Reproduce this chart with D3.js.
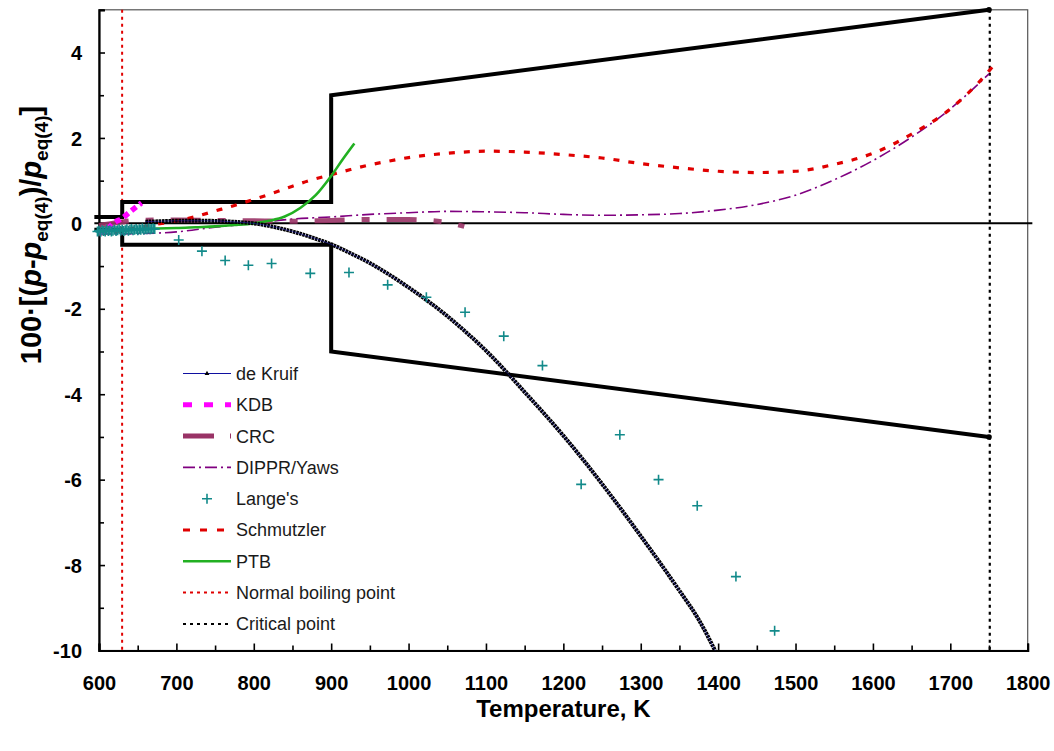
<!DOCTYPE html>
<html>
<head>
<meta charset="utf-8">
<script src="https://cdn.jsdelivr.net/npm/d3@7"></script>
<style>
  body { margin: 0; background: #fff; }
  svg { display: block; font-family: "Liberation Sans", Arial, sans-serif; }
</style>
</head>
<body>
<svg id="chart" width="1054" height="751"></svg>
<script>
// ---- data: relative deviation 100·(p − p_eq(4))/p_eq(4) vs temperature ----
const deKruifT = [660, 680, 700, 720, 740, 760, 780, 800, 825, 850, 875, 900, 925, 950, 975, 1000,
                  1025, 1050, 1075, 1100, 1125, 1150, 1175, 1200, 1225, 1250, 1275, 1300, 1325, 1350, 1375, 1396];
const deKruifP = [0.04, 0.05, 0.06, 0.06, 0.06, 0.05, 0.03, 0.00, -0.08, -0.19, -0.33, -0.49, -0.70, -0.93, -1.20, -1.50,
                  -1.82, -2.17, -2.56, -2.98, -3.45, -3.95, -4.45, -4.97, -5.52, -6.10, -6.70, -7.32, -7.95, -8.60, -9.28, -10.0];

const kdbT = [600, 610, 620, 630, 640, 655];
const kdbP = [-0.24, -0.14, 0.02, 0.12, 0.27, 0.48];

const crcT = [600, 625, 650, 700, 750, 800, 850, 900, 950, 1000, 1025, 1050, 1072];
const crcP = [-0.05, 0.02, 0.07, 0.08, 0.07, 0.06, 0.05, 0.07, 0.09, 0.09, 0.07, 0.02, -0.07];

const dipprT = [600, 650, 700, 750, 800, 850, 900, 950, 1000, 1050, 1100, 1150, 1200, 1250,
                1300, 1350, 1400, 1450, 1500, 1550, 1600, 1650, 1700, 1750];
const dipprP = [-0.25, -0.24, -0.20, -0.09, 0.00, 0.10, 0.15, 0.21, 0.25, 0.28, 0.27, 0.25, 0.21, 0.19,
                0.20, 0.23, 0.31, 0.44, 0.66, 1.02, 1.47, 2.02, 2.68, 3.50];

const langeT = [598, 600, 602, 604, 606, 608, 610, 612, 614, 616, 618, 620, 622, 624, 626, 628, 630, 632, 634,
                636, 638, 640, 642, 644, 646, 648, 650, 652, 654, 656, 658, 660, 662, 664, 666, 668, 670, 672,
                703, 733, 763, 793, 823, 873, 923, 973, 1023, 1073, 1123, 1173, 1223, 1273, 1323, 1373, 1423, 1473];
const langeP = [-0.19, -0.17, -0.20, -0.16, -0.18, -0.19, -0.15, -0.18, -0.16, -0.19, -0.17, -0.15, -0.18, -0.16, -0.14, -0.17, -0.15, -0.18, -0.16,
                -0.14, -0.17, -0.15, -0.13, -0.16, -0.15, -0.13, -0.16, -0.14, -0.15, -0.12, -0.15, -0.13, -0.14, -0.12, -0.14, -0.13, -0.12, -0.13,
                -0.39, -0.65, -0.87, -0.98, -0.94, -1.17, -1.15, -1.44, -1.73, -2.08, -2.64, -3.33, -6.11, -4.95, -6.00, -6.61, -8.27, -9.54];

const schmutzlerT = [600, 625, 650, 675, 700, 725, 750, 775, 800, 825, 850, 875, 900, 925, 950, 975, 1000,
                     1050, 1100, 1150, 1200, 1250, 1300, 1350, 1400, 1450, 1500, 1550, 1600, 1650, 1700, 1750, 1755];
const schmutzlerP = [-0.25, -0.18, -0.10, -0.02, 0.06, 0.16, 0.29, 0.42, 0.56, 0.71, 0.87, 1.02, 1.14, 1.26, 1.37, 1.46, 1.54,
                     1.64, 1.69, 1.67, 1.61, 1.53, 1.40, 1.30, 1.22, 1.19, 1.22, 1.38, 1.64, 2.09, 2.68, 3.57, 3.68];

const ptbT = [600, 625, 650, 675, 700, 725, 750, 775, 800, 820, 840, 860, 880, 900, 915, 930];
const ptbP = [-0.17, -0.15, -0.14, -0.12, -0.11, -0.09, -0.07, -0.04, 0.00, 0.06, 0.16, 0.36, 0.66, 1.11, 1.50, 1.87];

// uncertainty envelope of the reference equation
const envT = [594, 630, 630, 900, 900, 1750];
const envUpper = [0.15, 0.15, 0.5, 0.5, 3, 5];
const envLower = [-0.15, -0.15, -0.5, -0.5, -3, -5];

const zeroT = [594, 1806];
const boilingT = 629.88;
const criticalT = 1751;

const xTicks = [600, 700, 800, 900, 1000, 1100, 1200, 1300, 1400, 1500, 1600, 1700, 1800];
const xMinorTicks = [650, 750, 850, 950, 1050, 1150, 1250, 1350, 1450, 1550, 1650, 1750];
const yTicks = [-10, -8, -6, -4, -2, 0, 2, 4];
const yMinorTicks = [-9, -7, -5, -3, -1, 1, 3, 5];

const legendNames = ["de Kruif", "KDB", "CRC", "DIPPR/Yaws", "Lange's", "Schmutzler", "PTB",
                     "Normal boiling point", "Critical point"];

// ---- layout ----
const svg = d3.select("#chart");
const x = d3.scaleLinear().domain([600, 1800]).range([99, 1027.7]);
const y = d3.scaleLinear().domain([-10, 5]).range([650.5, 9.8]);

const pair = (ts, ps) => ts.map((t, i) => [t, ps[i]]);
const line = d3.line().x(d => x(d[0])).y(d => y(d[1]));
const smooth = d3.line().x(d => x(d[0])).y(d => y(d[1])).curve(d3.curveMonotoneX);

// plot frame (top / right)
svg.append("rect")
  .attr("x", x(600)).attr("y", y(5))
  .attr("width", x(1800) - x(600)).attr("height", y(-10) - y(5))
  .attr("fill", "none").attr("stroke", "#555").attr("stroke-width", 1.2);

// axes (plain hyphen for negative labels)
const fmt = d => String(d);
svg.append("g").attr("transform", `translate(0,${y(-10)})`)
  .call(d3.axisBottom(x).tickValues(xTicks).tickSize(-7).tickPadding(25).tickFormat(fmt));
svg.append("g").attr("transform", `translate(0,${y(-10)})`)
  .call(d3.axisBottom(x).tickValues(xMinorTicks).tickSize(-5).tickFormat(""))
  .call(g => g.select(".domain").remove());
const gy = svg.append("g").attr("transform", `translate(${x(600)},0)`)
  .call(d3.axisLeft(y).tickValues(yTicks).tickSize(-6).tickPadding(17).tickFormat(fmt));
svg.append("g").attr("transform", `translate(${x(600)},0)`)
  .call(d3.axisLeft(y).tickValues(yMinorTicks).tickSize(-5).tickFormat(""))
  .call(g => g.select(".domain").remove());

svg.selectAll(".domain").attr("stroke", "#000").attr("stroke-width", 2.2);
svg.selectAll(".tick line").attr("stroke", "#000").attr("stroke-width", 1.6);
svg.selectAll(".tick text")
  .attr("font-family", "'Liberation Sans', Arial, sans-serif")
  .attr("font-size", 20).attr("font-weight", "bold").attr("fill", "#000");
gy.selectAll(".tick text").attr("dy", "0.36em");

// axis titles
svg.append("text")
  .attr("x", (x(600) + x(1800)) / 2).attr("y", 717)
  .attr("text-anchor", "middle")
  .attr("font-size", 24).attr("font-weight", "bold")
  .text("Temperature, K");

const yTitle = svg.append("text")
  .attr("transform", `translate(41,${235}) rotate(-90)`)
  .attr("text-anchor", "middle")
  .attr("font-size", 29).attr("font-weight", "bold");
const parts = [
  ["100·[(", "normal"], ["p", "italic"], ["-", "normal"], ["p", "italic"],
  ["eq(4)", "sub"], [")/", "normal"], ["p", "italic"], ["eq(4)", "sub"], ["]", "normal"]
];
let shifted = false;
parts.forEach(([txt, kind]) => {
  const ts = yTitle.append("tspan").text(txt);
  if (kind === "italic") ts.attr("font-style", "italic");
  if (kind === "sub") { ts.attr("font-size", 19).attr("dy", 7); shifted = true; }
  else if (shifted) { ts.attr("dy", -7); shifted = false; }
});

// zero line
svg.append("path").datum(pair(zeroT, [0, 0]))
  .attr("d", line).attr("fill", "none").attr("stroke", "#000").attr("stroke-width", 2);

// vertical reference lines
svg.append("line")
  .attr("x1", x(boilingT)).attr("x2", x(boilingT)).attr("y1", y(5)).attr("y2", y(-10))
  .attr("stroke", "#e00000").attr("stroke-width", 2).attr("stroke-dasharray", "3,4");
svg.append("line")
  .attr("x1", x(criticalT)).attr("x2", x(criticalT)).attr("y1", y(5)).attr("y2", y(-10))
  .attr("stroke", "#000").attr("stroke-width", 2.2).attr("stroke-dasharray", "3,4");

// uncertainty envelope
[envUpper, envLower].forEach(vals => {
  svg.append("path").datum(pair(envT, vals))
    .attr("d", line).attr("fill", "none").attr("stroke", "#000")
    .attr("stroke-width", 4).attr("stroke-linejoin", "miter");
  svg.append("circle").attr("cx", x(envT[envT.length - 1])).attr("cy", y(vals[vals.length - 1]))
    .attr("r", 2.8).attr("fill", "#000");
});

// DIPPR/Yaws
svg.append("path").datum(pair(dipprT, dipprP))
  .attr("d", smooth).attr("fill", "none").attr("stroke", "#800080")
  .attr("stroke-width", 1.6).attr("stroke-dasharray", "12,4,2,4");

// CRC
svg.append("path").datum(pair(crcT, crcP))
  .attr("d", smooth).attr("fill", "none").attr("stroke", "#993366")
  .attr("stroke-width", 5).attr("stroke-dasharray", "30,17,8,17").attr("opacity", 0.9);

// Schmutzler
svg.append("path").datum(pair(schmutzlerT, schmutzlerP))
  .attr("d", smooth).attr("fill", "none").attr("stroke", "#e00000")
  .attr("stroke-width", 3.2).attr("stroke-dasharray", "6,9");

// PTB
svg.append("path").datum(pair(ptbT, ptbP))
  .attr("d", smooth).attr("fill", "none").attr("stroke", "#22b022")
  .attr("stroke-width", 2.6);

// de Kruif: dense triangle markers rendered as a ticked stroke, thin navy line on top
const kr = pair(deKruifT, deKruifP);
svg.append("path").datum(kr)
  .attr("d", smooth).attr("fill", "none").attr("stroke", "#000")
  .attr("stroke-width", 4).attr("stroke-dasharray", "2.6,0.7");
svg.append("path").datum(kr)
  .attr("d", smooth).attr("fill", "none").attr("stroke", "#2020c0")
  .attr("stroke-width", 0.5);

// KDB
svg.append("path").datum(pair(kdbT, kdbP))
  .attr("d", smooth).attr("fill", "none").attr("stroke", "#ff00ff")
  .attr("stroke-width", 5.5).attr("stroke-dasharray", "6,4");

// Lange's
svg.append("g").selectAll("path").data(pair(langeT, langeP)).join("path")
  .attr("transform", d => `translate(${x(d[0])},${y(d[1])})`)
  .attr("d", "M-5,0H5M0,-5V5")
  .attr("stroke", "#128a8a").attr("stroke-width", 1.6).attr("fill", "none");

// legend
const lg = svg.append("g").attr("font-size", 18).attr("fill", "#1a1a1a");
const lx0 = 183, lx1 = 231, ly0 = 373.5, ldy = 31.3;
legendNames.forEach((name, i) => {
  const cy = ly0 + i * ldy;
  const g = lg.append("g");
  const seg = () => g.append("line").attr("x1", lx0).attr("x2", lx1).attr("y1", cy).attr("y2", cy).attr("fill", "none");
  switch (i) {
    case 0:
      seg().attr("stroke", "#1010a0").attr("stroke-width", 1);
      g.append("path").attr("transform", `translate(${(lx0 + lx1) / 2},${cy})`)
        .attr("d", d3.symbol().type(d3.symbolTriangle).size(10)).attr("fill", "#000");
      break;
    case 1: seg().attr("stroke", "#ff00ff").attr("stroke-width", 5).attr("stroke-dasharray", "9,12"); break;
    case 2: seg().attr("stroke", "#993366").attr("stroke-width", 5).attr("stroke-dasharray", "31,16,2,16"); break;
    case 3: seg().attr("stroke", "#800080").attr("stroke-width", 1.6).attr("stroke-dasharray", "12,4,2,4"); break;
    case 4:
      g.append("path").attr("transform", `translate(${(lx0 + lx1) / 2},${cy})`)
        .attr("d", "M-5,0H5M0,-5V5").attr("stroke", "#128a8a").attr("stroke-width", 1.6);
      break;
    case 5: seg().attr("stroke", "#e00000").attr("stroke-width", 3).attr("stroke-dasharray", "7,10"); break;
    case 6: seg().attr("stroke", "#22b022").attr("stroke-width", 2.6); break;
    case 7: seg().attr("stroke", "#e00000").attr("stroke-width", 2).attr("stroke-dasharray", "3,4"); break;
    case 8: seg().attr("stroke", "#000").attr("stroke-width", 2).attr("stroke-dasharray", "3,4"); break;
  }
  g.append("text").attr("x", 236).attr("y", cy).attr("dy", "0.36em").text(name);
});
</script>
</body>
</html>
